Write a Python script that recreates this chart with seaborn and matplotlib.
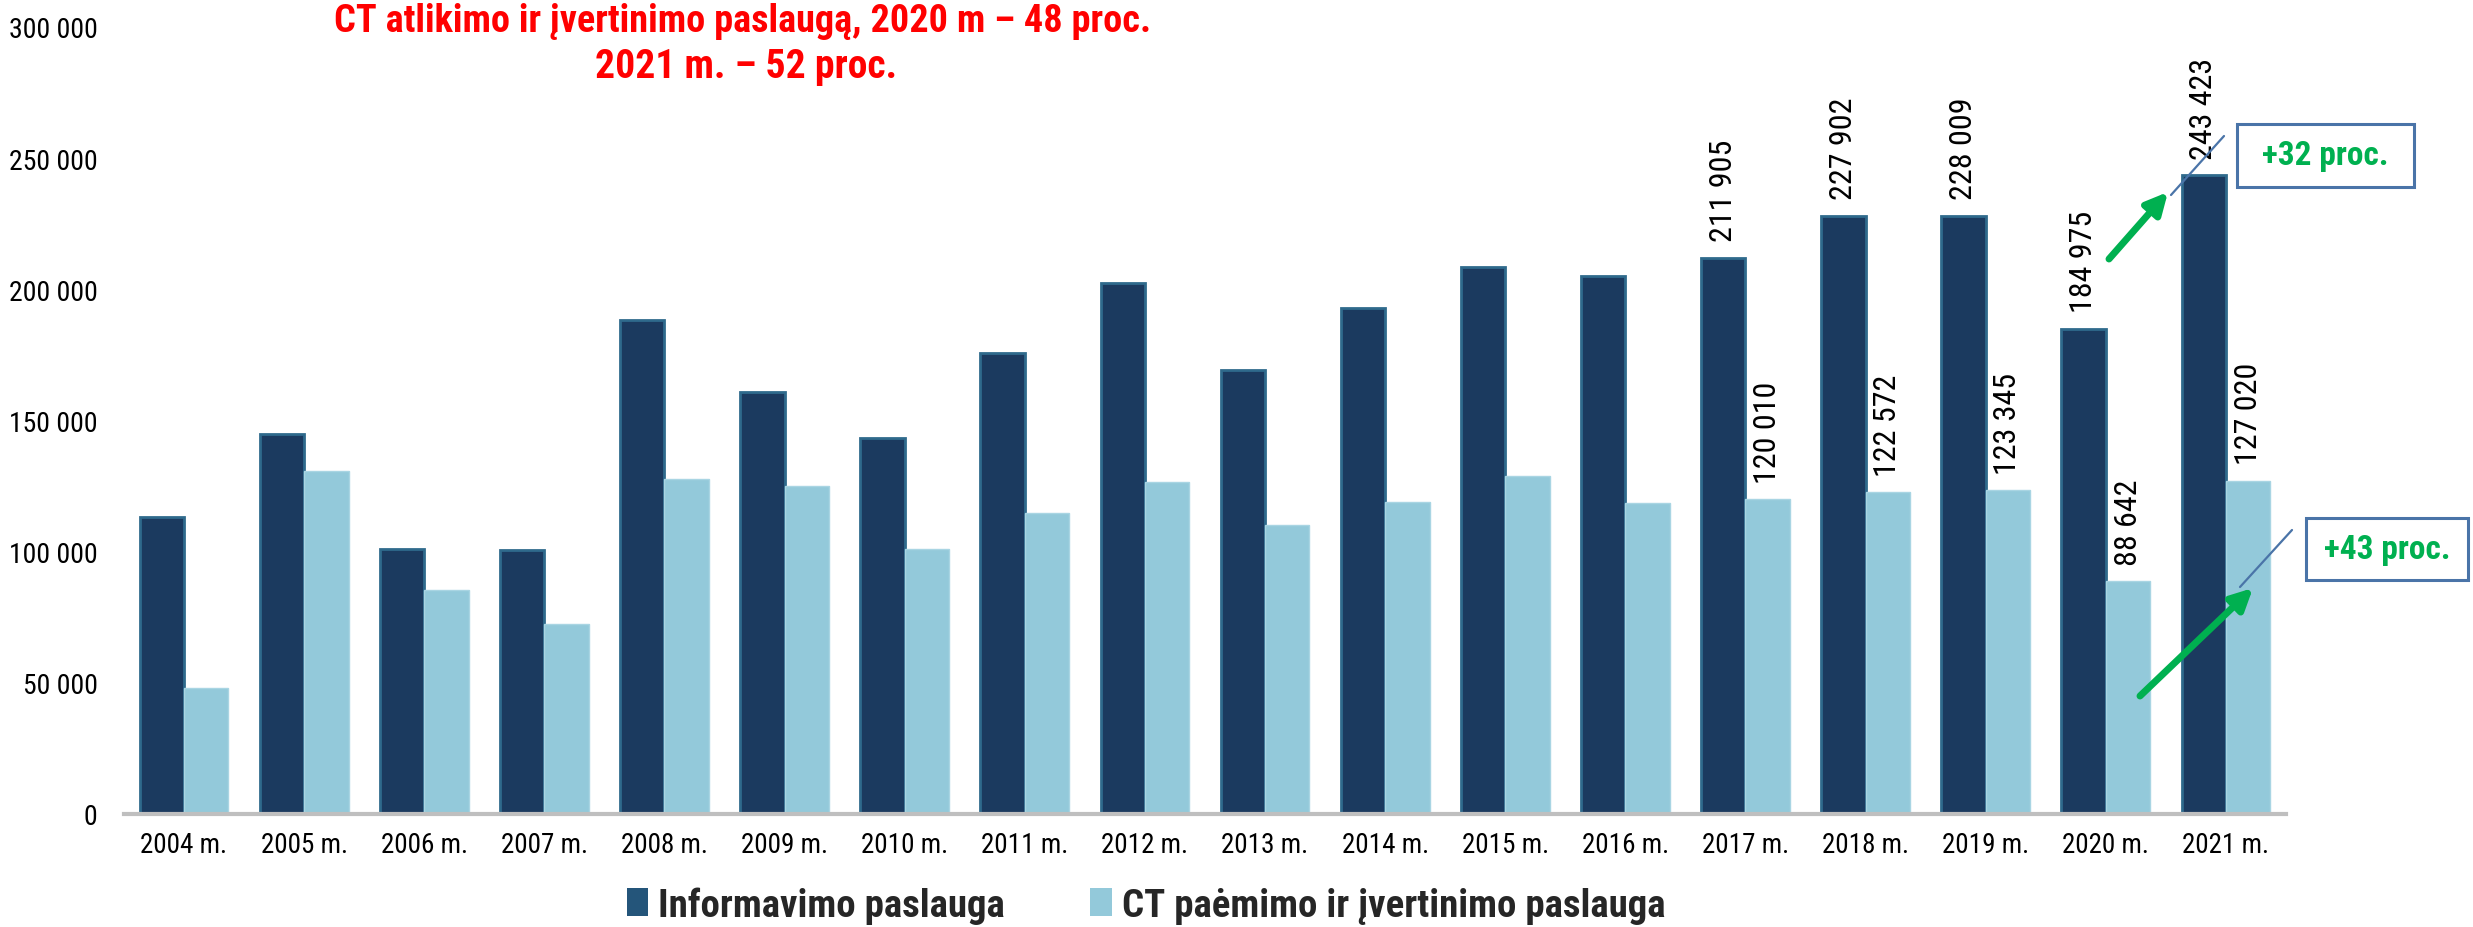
import matplotlib
matplotlib.use("Agg")
import matplotlib.pyplot as plt
from matplotlib import font_manager
from matplotlib.patches import Patch, Rectangle, FancyArrowPatch
from matplotlib.lines import Line2D
from matplotlib.ticker import FuncFormatter
import seaborn as sns
import pandas as pd

# ---------------- data ----------------
years = ["2004 m.", "2005 m.", "2006 m.", "2007 m.", "2008 m.", "2009 m.",
         "2010 m.", "2011 m.", "2012 m.", "2013 m.", "2014 m.", "2015 m.",
         "2016 m.", "2017 m.", "2018 m.", "2019 m.", "2020 m.", "2021 m."]
informavimo = [113300, 145000, 101000, 100500, 188400, 161000, 143300, 175900,
               202300, 169100, 192900, 208400, 204900, 211905, 227902, 228009,
               184975, 243423]
ct_paemimo = [48200, 130600, 85400, 72400, 127800, 125000, 101000, 114900,
              126700, 110200, 118900, 128800, 118600, 120010, 122572, 123345,
              88642, 127020]
series_names = ["Informavimo paslauga", "CT paėmimo ir įvertinimo paslauga"]
labelled_years = ["2017 m.", "2018 m.", "2019 m.", "2020 m.", "2021 m."]
title_lines = ["CT atlikimo ir įvertinimo paslaugą, 2020 m – 48 proc.",
               "2021 m. – 52 proc."]
growth_labels = ["+32 proc.", "+43 proc."]
y_ticks = [0, 50000, 100000, 150000, 200000, 250000, 300000]

# ---------------- fonts ----------------
def pick(names):
    for n in names:
        try:
            font_manager.findfont(font_manager.FontProperties(family=n),
                                  fallback_to_default=False)
            return n
        except Exception:
            pass
    return "DejaVu Sans"

narrow = pick(["Liberation Sans Narrow", "Roboto Condensed", "Open Sans Condensed", "Liberation Sans"])
sns.set_theme(style="white")
plt.rcParams["font.family"] = [narrow, "DejaVu Sans"]

DARK = "#1b3a5f"
LIGHT = "#93c9da"

df = pd.DataFrame({
    "year": years * 2,
    "value": informavimo + ct_paemimo,
    "series": [series_names[0]] * len(years) + [series_names[1]] * len(years),
})

W, H = 2473, 928
fig = plt.figure(figsize=(W / 100, H / 100), dpi=100)
ax = fig.add_axes([124 / W, 1 - 815 / H, (2286 - 124) / W, (815 - 28) / H])

sns.barplot(data=df, x="year", y="value", hue="series", order=years,
            hue_order=series_names, palette=[DARK, LIGHT], saturation=1,
            width=0.74, gap=0, ax=ax, legend=False, errorbar=None)

# edge glow on bars
for i, cont in enumerate(ax.containers):
    for bar in cont:
        if i == 0:
            bar.set_edgecolor("#2f6a8c")
            bar.set_linewidth(2.0)
        else:
            bar.set_edgecolor("#a9d5e3")
            bar.set_linewidth(1.0)

ax.set_xlim(-0.5, len(years) - 0.5)
ax.set_ylim(0, 300000)
ax.set_yticks(y_ticks)
ax.yaxis.set_major_formatter(FuncFormatter(lambda v, p: f"{int(v):,}".replace(",", " ")))
ax.set_xlabel("")
ax.set_ylabel("")
ax.tick_params(axis="y", length=0, pad=19, labelsize=20, labelcolor="black")
ax.tick_params(axis="x", length=0, pad=12, labelsize=19.5, labelcolor="black")
for s in ["top", "right", "left"]:
    ax.spines[s].set_visible(False)
ax.spines["bottom"].set_color("#bfbfbf")
ax.spines["bottom"].set_linewidth(3)
ax.grid(False)

# data labels for the last years
for cont in ax.containers:
    for bar, yr in zip(cont, years):
        if yr in labelled_years:
            h = bar.get_height()
            ax.annotate(f"{int(h):,}".replace(",", " "),
                        (bar.get_x() + bar.get_width() / 2, h),
                        xytext=(0, 12), textcoords="offset points",
                        rotation=90, ha="center", va="bottom",
                        fontsize=23, color="black", annotation_clip=False)

# title lines
fig.text(743 / W, 1 - 22 / H, title_lines[0], ha="center", va="center",
         color="#ff0000", fontsize=27.5, fontweight="bold")
fig.text(746 / W, 1 - 67 / H, title_lines[1], ha="center", va="center",
         color="#ff0000", fontsize=28.5, fontweight="bold")

# growth boxes
BOXC = "#4a74a8"
GREEN = "#00b050"
boxes = [(2237, 125, 2414, 188), (2306, 519, 2468, 581)]
for (x0, y0, x1, y1), lab in zip(boxes, growth_labels):
    fig.patches.append(Rectangle((x0 / W, 1 - y1 / H), (x1 - x0) / W, (y1 - y0) / H,
                                 transform=fig.transFigure, fill=False,
                                 edgecolor=BOXC, linewidth=2.2))
    fig.text((x0 + x1) / 2 / W, 1 - (y0 + y1) / 2 / H, lab, ha="center", va="center",
             color=GREEN, fontsize=24, fontweight="bold")

# green arrows and thin connector lines
arrows = [((2109, 260), (2168, 193)), ((2140, 697), (2253, 589))]
for (x0, y0), (x1, y1) in arrows:
    fig.patches.append(FancyArrowPatch((x0 / W, 1 - y0 / H), (x1 / W, 1 - y1 / H),
                                       transform=fig.transFigure, arrowstyle="-|>",
                                       mutation_scale=32, linewidth=5, color=GREEN,
                                       shrinkA=0, shrinkB=0))
lines = [((2171, 196), (2224, 137)), ((2240, 588), (2292, 531))]
for (x0, y0), (x1, y1) in lines:
    fig.lines.append(Line2D([x0 / W, x1 / W], [1 - y0 / H, 1 - y1 / H],
                            transform=fig.transFigure, color=BOXC, linewidth=1.6))

# legend
handles = [Patch(facecolor="#24557a", edgecolor="none"),
           Patch(facecolor=LIGHT, edgecolor="none")]
fig.legend(handles, series_names, loc="center", bbox_to_anchor=(1146 / W, 1 - 906 / H),
           ncol=2, frameon=False, prop={"weight": "bold", "size": 28},
           handlelength=0.55, handleheight=0.75, handletextpad=0.25, columnspacing=2.2)

fig.savefig("out.png", dpi=100)
